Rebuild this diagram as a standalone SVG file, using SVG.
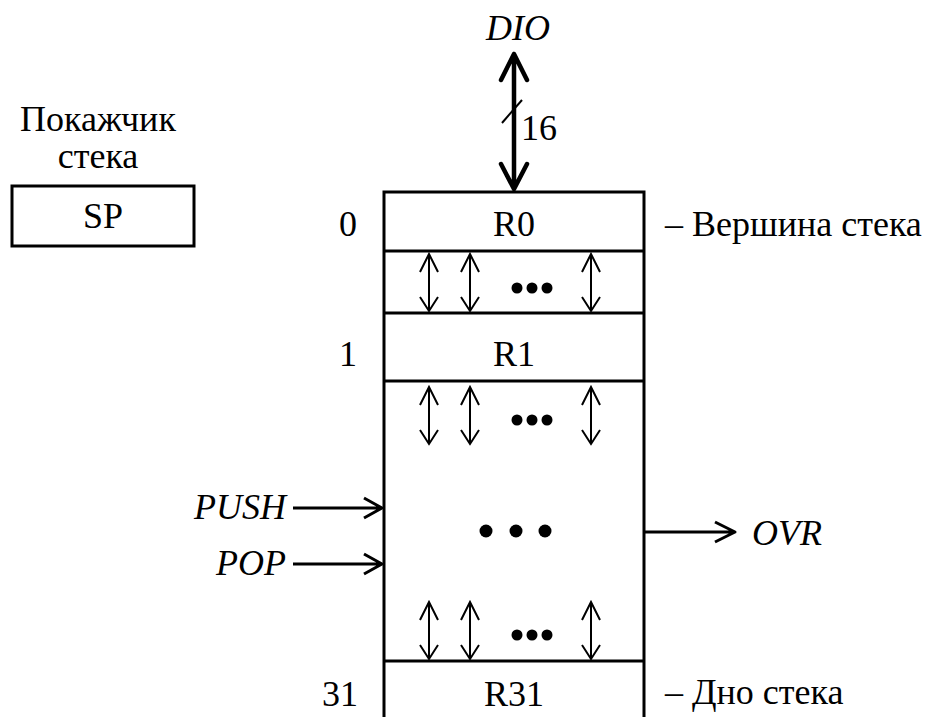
<svg xmlns="http://www.w3.org/2000/svg" xmlns:xlink="http://www.w3.org/1999/xlink" width="936" height="717" viewBox="0 0 936 717">
<style>
text{font-family:"Times New Roman",Times,"Liberation Serif","Noto Serif","DejaVu Serif",serif;font-size:36px;fill:#000}
.it{font-style:italic}
.ln{fill:none;stroke:#000;stroke-width:3}
.thin{fill:none;stroke:#000;stroke-width:2}
.bus{fill:none;stroke:#000;stroke-width:4.5;stroke-linecap:round;stroke-linejoin:round}
.sig{fill:none;stroke:#000;stroke-width:3;stroke-linejoin:round}
</style>
<defs>
<g id="darr">
<path class="thin" d="M0,0 V57 M-9,18 L0,0 L9,18 M-9,43 L0,57 L9,43"/>
</g>
<g id="dots3">
<circle cx="-15" cy="0" r="5.5"/><circle cx="0" cy="0" r="5.5"/><circle cx="15" cy="0" r="5.5"/>
</g>
</defs>

<g id="sp">
<text x="98" y="131" text-anchor="middle">Покажчик</text>
<text x="98" y="168" text-anchor="middle">стека</text>
<rect x="12" y="186" width="182" height="60" fill="#fff" stroke="#000" stroke-width="3"/>
<text x="103" y="228" text-anchor="middle">SP</text>
</g>

<g id="stack">
<path class="ln" d="M384,717 V192 H644 V717"/>
<line class="ln" x1="384" y1="251" x2="644" y2="251"/>
<line class="ln" x1="384" y1="313" x2="644" y2="313"/>
<line class="ln" x1="384" y1="381" x2="644" y2="381"/>
<line class="ln" x1="384" y1="661" x2="644" y2="661"/>
</g>

<g id="r0">
<text x="514" y="236" text-anchor="middle">R0</text>
<text x="348" y="236" text-anchor="middle">0</text>
<text x="665" y="236">– Вершина стека</text>
</g>
<g id="r1">
<text x="514" y="366" text-anchor="middle">R1</text>
<text x="348" y="366" text-anchor="middle">1</text>
</g>
<g id="r31">
<text x="514" y="706" text-anchor="middle">R31</text>
<text x="340" y="706" text-anchor="middle">31</text>
<text x="665" y="704">– Дно стека</text>
</g>

<g id="shifts">
<use xlink:href="#darr" x="429" y="254"/>
<use xlink:href="#darr" x="470" y="254"/>
<use xlink:href="#darr" x="591" y="254"/>
<use xlink:href="#dots3" x="532" y="288"/>
<use xlink:href="#darr" x="429" y="387"/>
<use xlink:href="#darr" x="470" y="387"/>
<use xlink:href="#darr" x="591" y="387"/>
<use xlink:href="#dots3" x="532" y="420"/>
<use xlink:href="#darr" x="429" y="602"/>
<use xlink:href="#darr" x="470" y="602"/>
<use xlink:href="#darr" x="591" y="602"/>
<use xlink:href="#dots3" x="532" y="635"/>
<circle cx="486" cy="531" r="6.5"/><circle cx="516" cy="531" r="6.5"/><circle cx="545" cy="531" r="6.5"/>
</g>

<g id="connectors">
<path class="bus" d="M514,54 V189 M501,80 L514,54 L527,80 M501,164 L514,189 L527,164"/>
<line x1="502" y1="123" x2="522" y2="100" stroke="#000" stroke-width="2"/>
<path class="sig" d="M293,508 H382 M364,498 L382,508 L364,518"/>
<path class="sig" d="M293,564 H382 M364,554 L382,564 L364,574"/>
<path class="sig" d="M645,532 H735 M715,522 L735,532 L715,542"/>
</g>

<g id="labels">
<text class="it" x="518" y="40" text-anchor="middle">DIO</text>
<text x="521" y="140">16</text>
<text class="it" x="286" y="519" text-anchor="end">PUSH</text>
<text class="it" x="286" y="575" text-anchor="end">POP</text>
<text class="it" x="752" y="545">OVR</text>
</g>
</svg>
